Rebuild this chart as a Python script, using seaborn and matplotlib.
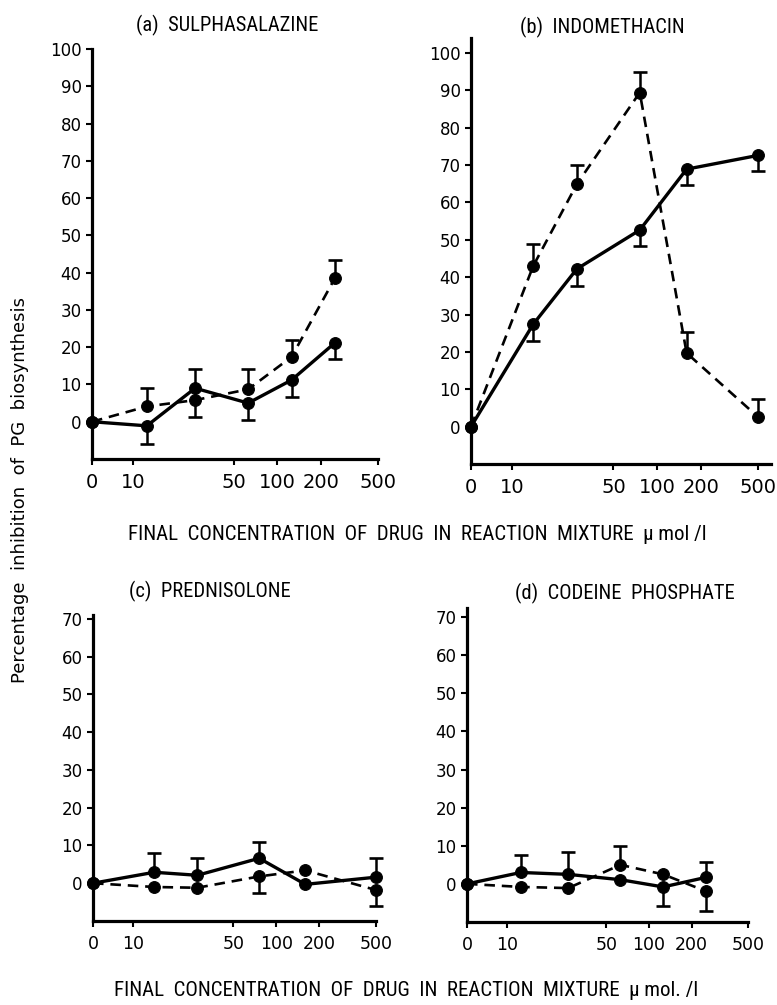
import numpy as np
import matplotlib
matplotlib.use("Agg")
import matplotlib.pyplot as plt
import seaborn as sns

# concentrations (umol/l)
conc_ad = [0, 12.5, 27, 63, 126, 252]
conc_bc = [0, 14, 28, 76, 160, 500]
x_ticks = [0, 10, 50, 100, 200, 500]

# (a) sulphasalazine
sulpha_solid = [0, -1.1, 9.0, 5.0, 11.2, 21.2]
sulpha_solid_lo = [0, 4.8, 0, 4.5, 4.7, 4.5]
sulpha_solid_hi = [0, 0, 5.1, 0, 0, 0]
sulpha_dash = [0, 4.1, 5.8, 8.7, 17.4, 38.6]
sulpha_dash_lo = [0, 0, 4.6, 0, 0, 0]
sulpha_dash_hi = [0, 5.0, 0, 5.4, 4.5, 4.9]

# (b) indomethacin
indo_solid = [0, 27.4, 42.2, 52.6, 68.9, 72.6]
indo_solid_lo = [0, 4.5, 4.6, 4.2, 4.3, 4.2]
indo_solid_hi = [0, 0, 0, 0, 0, 0]
indo_dash = [0, 43.0, 64.9, 89.4, 19.7, 2.5]
indo_dash_lo = [0, 0, 0, 0, 0, 0]
indo_dash_hi = [0, 5.9, 5.1, 5.5, 5.6, 4.9]

# (c) prednisolone
pred_solid = [0, 2.9, 2.1, 6.6, -0.3, 1.6]
pred_solid_lo = [0, 0, 0, 0, 0, 0]
pred_solid_hi = [0, 5.0, 4.7, 4.2, 0, 5.0]
pred_dash = [0, -1.0, -1.2, 1.8, 3.4, -1.8]
pred_dash_lo = [0, 0, 0, 4.4, 0, 4.2]
pred_dash_hi = [0, 0, 0, 0, 0, 0]

# (d) codeine phosphate
cod_solid = [0, 3.0, 2.5, 1.1, -0.8, 1.7]
cod_solid_lo = [0, 0, 0, 0, 5.0, 0]
cod_solid_hi = [0, 4.5, 5.8, 0, 0, 4.1]
cod_dash = [0, -0.8, -1.1, 5.0, 2.5, -1.9]
cod_dash_lo = [0, 0, 0, 0, 0, 5.1]
cod_dash_hi = [0, 0, 0, 5.0, 0, 0]

titles = ["(a)  SULPHASALAZINE", "(b)  INDOMETHACIN",
          "(c)  PREDNISOLONE", "(d)  CODEINE  PHOSPHATE"]
xlabel_top = "FINAL  CONCENTRATION  OF  DRUG  IN  REACTION  MIXTURE  \u03bc mol /l"
xlabel_bottom = "FINAL  CONCENTRATION  OF  DRUG  IN  REACTION  MIXTURE  \u03bc mol. /l"
ylabel = "Percentage  inhibition  of  PG  biosynthesis"

NARROW = ["DejaVu Sans Condensed", "Liberation Sans Narrow", "Roboto Condensed",
          "Roboto", "DejaVu Sans"]
LIN = 0.283  # width of the 0-10 stretch, in decades


def fwd(x):
    x = np.asarray(x, dtype=float)
    return np.where(x < 10, x / 10 * LIN, LIN + np.log10(np.maximum(x, 10) / 10))


def inv(y):
    y = np.asarray(y, dtype=float)
    return np.where(y < LIN, y / LIN * 10, 10 * 10 ** (np.maximum(y, LIN) - LIN))


def draw_err(ax, x, y, lo, hi):
    x, y, lo, hi = (np.asarray(v, dtype=float) for v in (x, y, lo, hi))
    keep = (lo > 0) | (hi > 0)
    ax.errorbar(x[keep], y[keep], yerr=[lo[keep], hi[keep]], fmt="none",
                ecolor="black", elinewidth=1.8, capsize=0, zorder=2, clip_on=False)
    up, dn = hi > 0, lo > 0
    ax.plot(x[up], (y + hi)[up], ls="none", marker="_", ms=10, mew=1.9,
            color="black", zorder=2, clip_on=False)
    ax.plot(x[dn], (y - lo)[dn], ls="none", marker="_", ms=10, mew=1.9,
            color="black", zorder=2, clip_on=False)


def panel(ax, conc, solid, s_lo, s_hi, dash, d_lo, d_hi, ylim, ytop, xmax, xsize):
    draw_err(ax, conc, solid, s_lo, s_hi)
    draw_err(ax, conc, dash, d_lo, d_hi)
    sns.lineplot(x=conc, y=dash, ax=ax, color="black", linestyle=(0, (4, 2.6)),
                 linewidth=1.9, marker="o", markersize=8.5, markeredgecolor="black",
                 errorbar=None, clip_on=False, zorder=3)
    sns.lineplot(x=conc, y=solid, ax=ax, color="black", linewidth=2.4,
                 marker="o", markersize=8.5, markeredgecolor="black",
                 errorbar=None, clip_on=False, zorder=4)
    ax.set_xscale("function", functions=(fwd, inv))
    ax.set_xlim(0, xmax)
    ax.set_ylim(*ylim)
    ax.set_xticks(x_ticks)
    ax.set_xticklabels([str(t) for t in x_ticks])
    ax.set_yticks(list(range(0, ytop + 1, 10)))
    ax.set_xlabel("")
    ax.set_ylabel("")
    sns.despine(ax=ax)
    for side in ("left", "bottom"):
        ax.spines[side].set_linewidth(2.3)
        ax.spines[side].set_color("black")
    ax.tick_params(axis="y", direction="out", length=4, width=1.5, pad=3.5,
                   labelsize=12, colors="black")
    ax.tick_params(axis="x", direction="out", length=4, width=1.5, pad=6,
                   labelsize=xsize, colors="black")


sns.set_style("ticks")
plt.rcParams["font.family"] = ["DejaVu Sans"]
plt.rcParams["text.color"] = "black"

W, H = 777, 1005
fig = plt.figure(figsize=(W / 100, H / 100), dpi=100)


def rect(left, right, top, bottom):
    return [left / W, 1 - bottom / H, (right - left) / W, (bottom - top) / H]


ax_a = fig.add_axes(rect(92, 378, 49, 459))
ax_b = fig.add_axes(rect(471, 771, 38, 464))
ax_c = fig.add_axes(rect(93, 376, 615, 921))
ax_d = fig.add_axes(rect(467, 748, 608, 922))

panel(ax_a, conc_ad, sulpha_solid, sulpha_solid_lo, sulpha_solid_hi,
      sulpha_dash, sulpha_dash_lo, sulpha_dash_hi, (-10, 100), 100, 500, 14)
panel(ax_b, conc_bc, indo_solid, indo_solid_lo, indo_solid_hi,
      indo_dash, indo_dash_lo, indo_dash_hi, (-10, 104), 100, 611, 14)
panel(ax_c, conc_bc, pred_solid, pred_solid_lo, pred_solid_hi,
      pred_dash, pred_dash_lo, pred_dash_hi, (-10, 71), 70, 500, 12.5)
panel(ax_d, conc_ad, cod_solid, cod_solid_lo, cod_solid_hi,
      cod_dash, cod_dash_lo, cod_dash_hi, (-10, 72.4), 70, 500, 12.5)

for (cx, cy), t in zip([(227, 25), (602, 27), (210, 591), (625, 593)], titles):
    fig.text(cx / W, 1 - cy / H, t, ha="center", va="center",
             fontsize=14.8, family=NARROW)

fig.text(128 / W, 1 - 535 / H, xlabel_top, ha="left", va="center",
         fontsize=15, family=NARROW)
fig.text(114 / W, 1 - 990 / H, xlabel_bottom, ha="left", va="center",
         fontsize=15, family=NARROW)
fig.text(20 / W, 1 - 490 / H, ylabel, rotation=90, ha="center", va="center",
         fontsize=13)

fig.savefig("out.png", dpi=100)
